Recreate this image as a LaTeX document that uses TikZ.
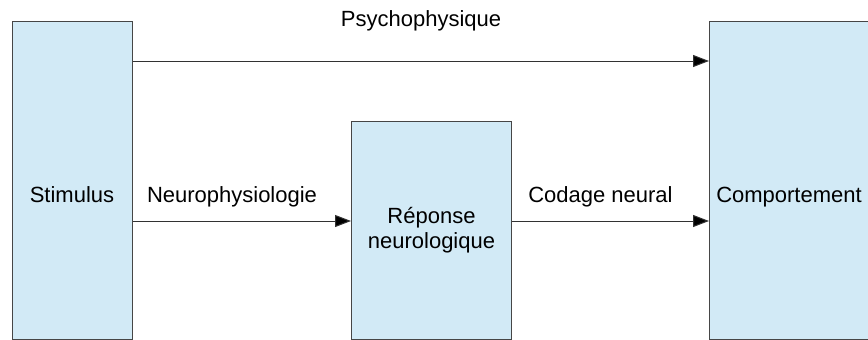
\documentclass[tikz,border=0pt]{standalone}
\usepackage{fontspec}
\setmainfont{Liberation Sans}
\usepackage{xcolor}
\usetikzlibrary{positioning,arrows.meta}

\definecolor{boxfill}{RGB}{210,234,246}
\definecolor{boxline}{RGB}{70,70,70}
\definecolor{linegray}{RGB}{50,50,50}

\begin{document}
\begin{tikzpicture}[
        x=1pt, y=-1pt,
        every node/.style={font=\fontsize{22}{25}\selectfont, align=center},
        stagebox/.style={draw=boxline, fill=boxfill, line width=1pt, inner sep=0pt, anchor=north west},
        flow/.style={draw=linegray, line width=1pt, -{Triangle[length=16pt,width=12pt,fill=black]}},
        flowlabel/.style={anchor=base, yshift=19pt, xshift=-10pt}
    ]
        \clip (0,0) rectangle (868,340);

        \node[stagebox, minimum width=120pt, minimum height=318pt] (stim) at (12,21) {};
        \node[stagebox, minimum width=160pt, minimum height=218pt] (mid) at (351,121) {R\'eponse\\neurologique};
        \node[stagebox, minimum width=160pt, minimum height=318pt] (comp) at (709,21) {};

        \node[anchor=base] (stimtxt) at (72,202) {Stimulus};
        \node[anchor=base] (comptxt) at (789,202) {Comportement};

        \draw[flow] ([yshift=-40pt]stim.north east) -- node[anchor=base, yshift=35pt] (psy) {Psychophysique} ([yshift=-40pt]comp.north west);
        \draw[flow] ([yshift=-200pt]stim.north east) -- node[flowlabel] (neuro) {Neurophysiologie} ([yshift=-100pt]mid.north west);
        \draw[flow] ([yshift=-100pt]mid.north east) -- node[flowlabel] (codage) {Codage neural} ([yshift=-200pt]comp.north west);
    \end{tikzpicture}
\end{document}
